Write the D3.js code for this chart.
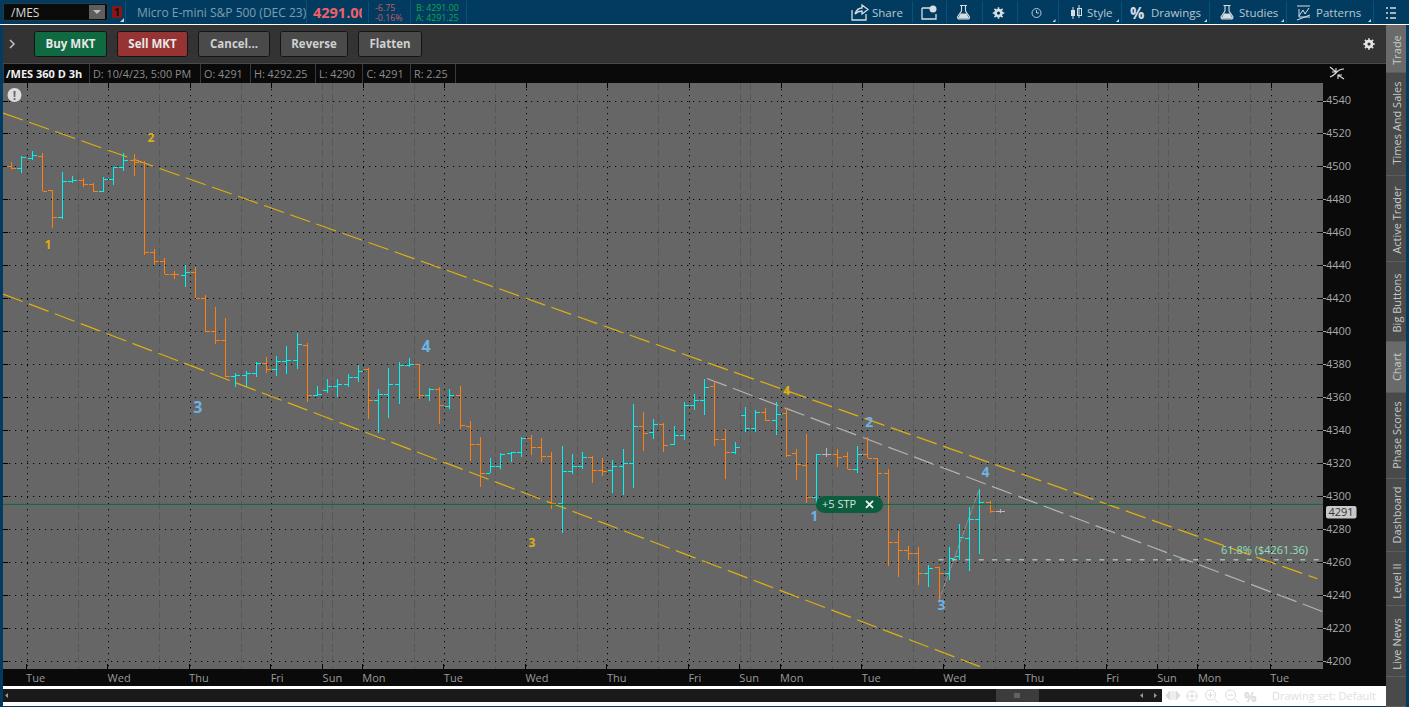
<!DOCTYPE html>
<html>
<head>
<meta charset="utf-8">
<title>/MES 360 D 3h</title>
<style>
  html, body { margin: 0; padding: 0; background: #01395c; overflow: hidden; }
  svg { display: block; }
  text { font-family: "Open Sans", "Noto Sans", sans-serif; }
  .price-axis path, .time-axis path { display: none; }
  .price-axis line { stroke: #a8a8a8; shape-rendering: crispEdges; }
  .price-axis text { fill: #a9a9a9; font-size: 11px; font-family: "Open Sans", sans-serif; }
  .time-axis line { stroke: #000; shape-rendering: crispEdges; }
  .time-axis text { fill: #9a9a9a; font-size: 11px; font-family: "Open Sans", sans-serif; text-anchor: start; }
</style>
</head>
<body>
<script src="https://cdnjs.cloudflare.com/ajax/libs/d3/7.8.5/d3.min.js"></script>
<script>

var opens = [4500,4499,4505,4506.25,4485.5,4469.5,4491,4491.75,4489.25,4485,
  4492.25,4499.5,4503.75,4502.5,4448,4442.5,4434.75,4434,4436.25,4420,
  4400,4394.5,4373,4373.25,4374.5,4380.75,4377,4381.75,4382.5,4391.75,
  4361.25,4364.25,4367,4367.75,4372,4377,4358.25,4362.25,4368,4379.5,
  4380,4361.25,4365,4354.5,4361.25,4342.5,4331.5,4314,4318.25,4326,
  4326.75,4335.25,4329.75,4324.25,4295.75,4315.25,4318.25,4323.75,4315.75,4315.75,
  4318.25,4320,4342.5,4338.75,4343.5,4331.5,4337,4355,4358.25,4367,
  4334.5,4326.75,4349,4341.25,4351,4346,4350.25,4326,4318.75,4299.5,
  4325.5,4325.5,4324.25,4316.25,4325.5,4323,4314,4272.25,4267.25,4265.5,
  4253.25,4257,4253.25,4263.5,4274.5,4286,4296.25,4291];
var highs = [4502.5,4506.5,4509.5,4508,4486,4496.5,4494,4492.75,4490,4493.5,
  4499.5,4508,4507.75,4503,4450,4444.5,4436.75,4440,4438.75,4422,
  4414.5,4408,4375,4376,4381.25,4384.5,4385,4391,4399,4392.75,
  4367,4371,4371,4374,4379.5,4377.75,4365,4377.5,4381.5,4384,
  4380.25,4365.75,4366,4365,4367,4345.75,4336,4323.25,4326,4327,
  4335.75,4337,4335.25,4326.75,4330.5,4325.75,4327,4324.5,4323.25,4322,
  4328.75,4356,4351,4347,4344.25,4342.5,4357,4362,4371,4370,
  4341,4333,4354,4352.25,4353.5,4357,4353.75,4328.75,4337.75,4325.5,
  4329,4328.75,4327,4330.5,4335.75,4323,4316.5,4278.75,4270,4269,
  4258.25,4257,4269,4283.25,4293.25,4304.25,4297.25,4292.25];
var lows = [4498.5,4496,4504,4485,4462.5,4468,4490,4487.5,4484.5,4484.25,
  4489,4497.5,4494,4446,4440.5,4434.75,4431.5,4427,4420,4399.5,
  4392.5,4372,4366.5,4366.5,4372.25,4375,4373,4374.25,4377,4357,
  4360.5,4362.5,4360.25,4366.25,4369,4347,4338.5,4347.5,4356,4378.5,
  4359,4358,4343.5,4353,4341,4321.5,4305.25,4313.75,4316.75,4321,
  4324,4325,4320.75,4292.5,4277.5,4313.5,4316.75,4308,4312.25,4302,
  4300.75,4305,4327.5,4334.75,4327,4331,4334.25,4352.25,4349.25,4330.5,
  4310.5,4325.75,4338.75,4338.75,4345.5,4337,4324,4309.5,4295.75,4295,
  4323.5,4317.5,4316.25,4313.75,4323,4300,4257.5,4251.25,4261,4246,
  4244.75,4236,4249,4261.25,4254.5,4265,4289.5,4290];
var closes = [4499,4505.5,4507,4485,4469.5,4491,4491.75,4489.25,4485,4492.25,
  4499.5,4503.75,4502.5,4448,4442.5,4434.75,4434.5,4436.25,4420.25,4400,
  4394.5,4373,4373.25,4374.5,4381,4377,4381.75,4382.5,4392.25,4361.25,
  4362.25,4367,4367.75,4372,4375.75,4358.25,4362.25,4368,4379.5,4380,
  4361.25,4365,4355,4361.25,4343,4331.5,4314,4318.25,4325.5,4326.75,
  4335.25,4329.75,4324.25,4295.75,4315.25,4318.25,4323.75,4315.75,4315.5,4318.25,
  4320,4342.5,4338.25,4343.5,4330.75,4337,4355,4358.25,4366,4334.5,
  4326.75,4329.75,4341.25,4351.25,4346,4349.75,4325,4319.5,4299.5,4325.5,
  4325.5,4323.5,4316.25,4325.5,4323,4313.75,4272.25,4267.25,4265.5,4253.25,
  4256.25,4253.25,4262.75,4275.25,4286,4296.25,4291,4291];

var priceTicks = [4200,4220,4240,4260,4280,4300,4320,4340,4360,4380,4400,4420,4440,4460,4480,4500,4520,4540];
var dayTicks = [1.5,9.5,17.5,25.5,30.6,34.5,42.5,50.5,58.5,66.5,71.5,75.5,83.5,91.5,99.5,107.5,112.5,116.5,123.6];
var dayNames = ["Tue","Wed","Thu","Fri","Sun","Mon","Tue","Wed","Thu","Fri","Sun","Mon","Tue","Wed","Thu","Fri","Sun","Mon","Tue"];
var dottedDays = [1.5,9.5,17.5,25.5,34.5,42.5,50.5,58.5,66.5,75.5,83.5,91.5,99.5,107.5,116.5,123.6];
var sessionBreaks = [6.5,14.5,22.5,30.5,31.5,39.5,47.5,55.5,63.5,71.5,72.5,80.5,88.5,96.5,104.5,112.5,113.5,121.6];

// wave counts: [bar position, price, text]
var yellowWaves = [[3.6,4452.3,"1"],[13.7,4517.3,"2"],[51.1,4271.6,"3"],[76.1,4363.8,"4"]];
var blueWaves = [[18.3,4354.1,"3",16],[40.7,4391.1,"4",16],[78.8,4288,"1",14],[84.2,4345,"2",14],[91.3,4234,"3",14],[95.6,4314.6,"4",14]];

var channelUpper = [[-0.81,4532.4],[128.18,4249.9]];
var channelLower = [[-0.81,4422.6],[95.06,4196.6]];
var trendGrey = [[68.27,4371.4],[128.73,4229.9]];
var fibSwing = [[91,4236],[95,4304.25]];
var fibLevel = 4261.36;
var fibEnd = [91,128.73];
var stopPrice = 4295;
var lastPrice = 4291;

var width = 1409, height = 707;
var plot = {left: 3, right: 1323, top: 83, bottom: 669};
var yellow = "#dcb010";

var svg = d3.select("body").append("svg")
  .attr("width", width)
  .attr("height", height);

var x = d3.scaleLinear().domain([0, 97]).range([11.3, 999.7]);
var y = d3.scaleLinear().domain([4200, 4540]).range([661, 100.5]);

function box(g, x0, y0, w, h, fill, stroke, r) {
  return g.append("rect").attr("x", x0).attr("y", y0).attr("width", w).attr("height", h)
    .attr("fill", fill).attr("stroke", stroke || "none").attr("rx", r || 0)
    .attr("shape-rendering", r ? null : "crispEdges");
}
function label(g, x0, y0, s, size, fill, weight, anchor) {
  return g.append("text").attr("x", x0).attr("y", y0).text(s)
    .attr("font-size", size).attr("fill", fill)
    .attr("font-weight", weight || 400).attr("text-anchor", anchor || "start");
}
function gear(g, cx, cy, r, col) {
  g.append("circle").attr("cx", cx).attr("cy", cy).attr("r", r * 0.6).attr("fill", "none")
    .attr("stroke", col).attr("stroke-width", r * 0.55);
  d3.range(8).forEach(function(i) {
    var a = i * Math.PI / 4;
    g.append("line").attr("x1", cx + Math.cos(a) * r * 0.7).attr("y1", cy + Math.sin(a) * r * 0.7)
      .attr("x2", cx + Math.cos(a) * r * 1.15).attr("y2", cy + Math.sin(a) * r * 1.15)
      .attr("stroke", col).attr("stroke-width", 1.6);
  });
}
function flask(g, cx, cy, col) {
  g.append("path").attr("d", "M" + (cx - 2) + " " + (cy - 6) + "V" + (cy - 1) + "L" + (cx - 6) + " " + (cy + 5) +
      "Q" + (cx - 6) + " " + (cy + 7) + " " + (cx - 4) + " " + (cy + 7) + "H" + (cx + 4) +
      "Q" + (cx + 6) + " " + (cy + 7) + " " + (cx + 6) + " " + (cy + 5) + "L" + (cx + 2) + " " + (cy - 1) + "V" + (cy - 6))
    .attr("fill", "none").attr("stroke", col).attr("stroke-width", 1.1);
  g.append("path").attr("d", "M" + (cx - 3) + " " + (cy + 1.5) + "H" + (cx + 3) + "L" + (cx + 5.5) + " " + (cy + 6.5) + "H" + (cx - 5.5) + "Z").attr("fill", col);
  g.append("line").attr("x1", cx - 3.5).attr("x2", cx + 3.5).attr("y1", cy - 6.5).attr("y2", cy - 6.5).attr("stroke", col);
}

// --- window frame
var ui = svg.append("g");
box(ui, 0, 0, width, 24, "#013c60");
box(ui, 0, 24, width, 1.5, "#ffffff");
box(ui, 3, 25, 1383, 39, "#333333");
box(ui, 3, 63, 1383, 1, "#4a4a4a");
box(ui, 3, 64, 1383, 622, "#0a0a0a");
box(ui, 0, 25, 3, 682, "#013c60");
box(ui, 1406, 25, 3, 682, "#013c60");
box(ui, 0, 706, width, 1, "#013c60");

// top toolbar
box(ui, 3.5, 3.5, 104, 17, "#0b0b0b", "#2a3a44", 2);
label(ui, 11, 16.5, "/MES", 12, "#d8d8d8");
box(ui, 89, 5, 16, 14, "#5e5e5e");
ui.append("path").attr("d", "M93 10H101L97 14Z").attr("fill", "#bdbdbd");
box(ui, 112, 6, 10, 12, "#8a1616", null, 2);
label(ui, 117, 16, "1", 11, "#111", 700, "middle");
ui.append("path").attr("d", "M120 22H124V18Z").attr("fill", "#c8d4dc");
label(ui, 137, 16.5, "Micro E-mini S&P 500 (DEC 23)", 12, "#7f9db0");
var clip = ui.append("clipPath").attr("id", "lastClip");
clip.append("rect").attr("x", 310).attr("y", 0).attr("width", 52).attr("height", 24);
label(ui, 313, 18, "4291.00", 14.5, "#f0606a", 700).attr("clip-path", "url(#lastClip)");
label(ui, 375, 10.5, "-6.75", 8.8, "#c85a64");
label(ui, 375, 20.5, "-0.16%", 8.8, "#c85a64");
label(ui, 416, 10.5, "B: 4291.00", 8.8, "#12a850");
label(ui, 416, 20.5, "A: 4291.25", 8.8, "#12a850");
[125, 306, 368, 409.5, 466, 911.5, 946, 981.5, 1016.7, 1057.7, 1121, 1209, 1286, 1373].forEach(function(d) {
  box(ui, d, 1, 1, 22, "#0f5078");
});

var tc = "#d6dee4", tt = "#b9c7d1";
ui.append("path").attr("d", "M852 10V20H866V14M855 14Q857 8 862 8V5L868 9.5L862 14V11Q858 11 855 14Z").attr("fill", "none").attr("stroke", tc).attr("stroke-width", 1.3);
label(ui, 872, 17, "Share", 11.5, tt);
ui.append("path").attr("d", "M922 8H932M922 8V19H936V14").attr("fill", "none").attr("stroke", tc).attr("stroke-width", 1.3);
ui.append("circle").attr("cx", 933).attr("cy", 9).attr("r", 3.5).attr("fill", tc);
flask(ui, 963.5, 12, tc);
gear(ui, 998.5, 13, 5, tc);
ui.append("circle").attr("cx", 1036.5).attr("cy", 13).attr("r", 4.5).attr("fill", "none").attr("stroke", tt);
ui.append("path").attr("d", "M1036.5 10V13H1039").attr("fill", "none").attr("stroke", tt);
ui.append("path").attr("d", "M1073 7V19M1079 5V18").attr("stroke", tc).attr("stroke-width", 1);
box(ui, 1071, 10, 4, 6, tc);
box(ui, 1077, 8, 4, 7, "none", tc);
label(ui, 1087, 17, "Style", 11.5, tt);
label(ui, 1130, 19, "%", 16, tc, 700);
label(ui, 1151, 17, "Drawings", 11.5, tt);
flask(ui, 1227, 12, tc);
label(ui, 1239, 17, "Studies", 11.5, tt);
ui.append("path").attr("d", "M1297 6H1310M1299 9V17H1310M1299 16L1303 10L1305 14L1309 8M1297 20L1310 15").attr("fill", "none").attr("stroke", tc).attr("stroke-width", 1);
label(ui, 1316, 17, "Patterns", 11.5, tt);
ui.append("path").attr("d", "M1390 8H1396M1390 13H1396M1390 18H1396M1386 8H1388M1386 13H1388M1386 18H1388").attr("stroke", tc).attr("stroke-width", 1.3);
[1055.5, 1119, 1207, 1284, 1371].forEach(function(d) {
  ui.append("path").attr("d", "M" + (d - 3) + " 22H" + d + "V19Z").attr("fill", "#c8d4dc");
});

// order bar
ui.append("path").attr("d", "M10 40L14 44L10 48").attr("fill", "none").attr("stroke", "#bbb").attr("stroke-width", 1.6);
var buttons = [
  {x: 34.5, w: 72, fill: "#0f6a42", s: "Buy MKT", c: "#e8e8e8"},
  {x: 117.5, w: 70, fill: "#963333", s: "Sell MKT", c: "#e8e8e8"},
  {x: 198.5, w: 71, fill: "#4a4a4a", s: "Cancel...", c: "#d0d0d0"},
  {x: 280.5, w: 67, fill: "#4a4a4a", s: "Reverse", c: "#d0d0d0"},
  {x: 358.5, w: 63, fill: "#4a4a4a", s: "Flatten", c: "#d0d0d0"}
];
buttons.forEach(function(b) {
  box(ui, b.x, 31.5, b.w, 25, b.fill, "#141414", 2);
  label(ui, b.x + b.w / 2, 48, b.s, 11.5, b.c, 700, "middle");
});
gear(ui, 1369, 44, 5, "#e6e6e6");

// side tabs
var tabs = [
  {s: "Trade", y0: 25, y1: 72, cy: 50, on: true},
  {s: "Times And Sales", y0: 73, y1: 175, cy: 123},
  {s: "Active Trader", y0: 176, y1: 261, cy: 220},
  {s: "Big Buttons", y0: 262, y1: 341, cy: 303},
  {s: "Chart", y0: 342, y1: 392, cy: 367, on: true},
  {s: "Phase Scores", y0: 393, y1: 478, cy: 435},
  {s: "Dashboard", y0: 479, y1: 551, cy: 515},
  {s: "Level II", y0: 552, y1: 605, cy: 581},
  {s: "Live News", y0: 606, y1: 676, cy: 644},
  {s: "", y0: 677, y1: 706}
];
tabs.forEach(function(t) {
  box(ui, 1386, t.y0, 20, t.y1 - t.y0, t.on ? "#6a6a6a" : "#4a4a4a");
  box(ui, 1386, t.y1, 20, 1, "#5c5c5c");
  if (t.s) {
    ui.append("text").text(t.s)
      .attr("transform", "translate(1401," + t.cy + ") rotate(-90)")
      .attr("text-anchor", "middle").attr("font-size", 11).attr("fill", "#c8c8c8");
  }
});

// study header strip
var heads = [
  {x: 6, s: "/MES 360 D 3h", c: "#f0f0f0", w: 700, f: 11},
  {x: 93, s: "D: 10/4/23, 5:00 PM", c: "#8c8c8c", f: 10.8},
  {x: 204, s: "O: 4291", c: "#8c8c8c", f: 10.8},
  {x: 254, s: "H: 4292.25", c: "#8c8c8c", f: 10.8},
  {x: 319, s: "L: 4290", c: "#8c8c8c", f: 10.8},
  {x: 366.5, s: "C: 4291", c: "#8c8c8c", f: 10.8},
  {x: 414, s: "R: 2.25", c: "#8c8c8c", f: 10.8}
];
heads.forEach(function(h) { label(ui, h.x, 77.5, h.s, h.f, h.c, h.w); });
[3, 89, 200, 250, 315, 362, 410, 455].forEach(function(d) { box(ui, d, 64, 1, 19, "#3a3a3a"); });
ui.append("path").attr("d", "M1330 67L1336 72M1336 68V72H1332M1344 79L1338 75M1338 79V75H1342M1330 77Q1333 76 1336 73Q1339 69 1344 69")
  .attr("fill", "none").attr("stroke", "#e0e0e0").attr("stroke-width", 1.1);

// bottom strip
box(ui, 3, 686, 1383, 20, "#ffffff");
box(ui, 3, 689, 1159, 13, "#1a1a1a");
box(ui, 996, 689, 43, 13, "#3c3c3c");
ui.append("path").attr("d", "M1015 693V698M1017 693V698M1019 693V698").attr("stroke", "#888");
ui.append("path").attr("d", "M8 693L5 695.5L8 698ZM1143 693L1140 695.5L1143 698ZM1154 693L1157 695.5L1154 698Z").attr("fill", "#999");
var fc = "#dcdcdc";
ui.append("path").attr("d", "M1166 695.5L1170 691V700ZM1180 695.5L1176 691V700ZM1172 691V700M1174 691V700").attr("fill", fc).attr("stroke", fc);
ui.append("circle").attr("cx", 1192).attr("cy", 696).attr("r", 5).attr("fill", "none").attr("stroke", fc);
ui.append("path").attr("d", "M1186 696H1198M1192 690V702").attr("stroke", fc);
[1210.5, 1230.5].forEach(function(d, i) {
  ui.append("circle").attr("cx", d).attr("cy", 695).attr("r", 5).attr("fill", "none").attr("stroke", fc);
  ui.append("path").attr("d", "M" + (d + 4) + " 699L" + (d + 8) + " 703M" + (d - 3) + " 695H" + (d + 3) + (i ? "" : "M" + d + " 692V698")).attr("stroke", fc).attr("fill", "none");
});
label(ui, 1244, 702, "%", 14, fc, 700);
label(ui, 1272, 700, "Drawing set: Default", 11, "#e0e0e0");

// --- plot
var chart = svg.append("g");
box(chart, plot.left, plot.top, plot.right - plot.left, plot.bottom - plot.top, "#666666");

chart.append("clipPath").attr("id", "plotClip").append("rect")
  .attr("x", plot.left).attr("y", plot.top)
  .attr("width", plot.right - plot.left).attr("height", plot.bottom - plot.top);
var marks = chart.append("g").attr("clip-path", "url(#plotClip)");

marks.selectAll("line.session").data(sessionBreaks).enter().append("line")
  .attr("class", "session")
  .attr("x1", function(d) { return Math.round(x(d)) + 0.5; })
  .attr("x2", function(d) { return Math.round(x(d)) + 0.5; })
  .attr("y1", plot.top).attr("y2", plot.bottom)
  .attr("stroke", "#585858").attr("stroke-dasharray", "8 3");

marks.selectAll("line.hgrid").data(priceTicks).enter().append("line")
  .attr("class", "hgrid")
  .attr("x1", plot.left).attr("x2", plot.right)
  .attr("y1", function(d) { return Math.round(y(d)) + 0.5; })
  .attr("y2", function(d) { return Math.round(y(d)) + 0.5; })
  .attr("stroke", "#000").attr("stroke-dasharray", "1.2 4.8");

marks.selectAll("line.vgrid").data(dottedDays).enter().append("line")
  .attr("class", "vgrid")
  .attr("x1", function(d) { return Math.round(x(d)) + 0.5; })
  .attr("x2", function(d) { return Math.round(x(d)) + 0.5; })
  .attr("y1", plot.top).attr("y2", plot.bottom)
  .attr("stroke", "#000").attr("stroke-dasharray", "1.2 4.8");

// edge ticks of the plot frame
marks.selectAll("line.topTick").data(dottedDays).enter().append("line")
  .attr("class", "topTick")
  .attr("x1", function(d) { return Math.round(x(d)) + 0.5; })
  .attr("x2", function(d) { return Math.round(x(d)) + 0.5; })
  .attr("y1", plot.top).attr("y2", plot.top + 5)
  .attr("stroke", "#000");
marks.selectAll("line.leftTick").data(priceTicks).enter().append("line")
  .attr("class", "leftTick")
  .attr("x1", plot.left).attr("x2", plot.left + 5)
  .attr("y1", function(d) { return Math.round(y(d)) + 0.5; })
  .attr("y2", function(d) { return Math.round(y(d)) + 0.5; })
  .attr("stroke", "#000");
marks.selectAll("line.rightTick").data(priceTicks).enter().append("line")
  .attr("class", "rightTick")
  .attr("x1", plot.right - 5).attr("x2", plot.right)
  .attr("y1", function(d) { return Math.round(y(d)) + 0.5; })
  .attr("y2", function(d) { return Math.round(y(d)) + 0.5; })
  .attr("stroke", "#000");

var line = d3.line().x(function(d) { return x(d[0]); }).y(function(d) { return y(d[1]); });

function drawSeg(pts, col, dash, sw, op) {
  marks.append("path").attr("d", line(pts))
    .attr("fill", "none").attr("stroke", col).attr("stroke-width", sw || 1.2)
    .attr("stroke-dasharray", dash).attr("opacity", op || 1);
}
drawSeg(fibSwing, "#9a9a9a", "6 1", 1, 0.8);
marks.append("line")
  .attr("x1", x(fibEnd[0])).attr("x2", x(fibEnd[1]))
  .attr("y1", y(fibLevel)).attr("y2", y(fibLevel))
  .attr("stroke", "#b9ecd4").attr("stroke-width", 1).attr("stroke-dasharray", "5 8.4");
drawSeg(channelUpper, yellow, "21 6.7");
drawSeg(channelLower, yellow, "21 6.7");
drawSeg(trendGrey, "#b4b4b4", "21 6.7");

// ohlc bars, coloured against the previous close
function barColor(i) {
  var prev = i === 0 ? opens[0] : closes[i - 1];
  if (closes[i] > prev) return "#00f2f2";
  if (closes[i] < prev) return "#ff7f0e";
  return "#b8b8b8";
}
var bars = marks.selectAll("g.bar").data(d3.range(opens.length)).enter().append("g")
  .attr("class", "bar")
  .attr("stroke", barColor)
  .attr("shape-rendering", "crispEdges");
bars.append("line")
  .attr("x1", function(i) { return Math.round(x(i)) + 0.5; })
  .attr("x2", function(i) { return Math.round(x(i)) + 0.5; })
  .attr("y1", function(i) { return y(highs[i]); })
  .attr("y2", function(i) { return y(lows[i]); });
bars.append("line")
  .attr("x1", function(i) { return Math.round(x(i)) - 4; })
  .attr("x2", function(i) { return Math.round(x(i)); })
  .attr("y1", function(i) { return Math.round(y(opens[i])) + 0.5; })
  .attr("y2", function(i) { return Math.round(y(opens[i])) + 0.5; });
bars.append("line")
  .attr("x1", function(i) { return Math.round(x(i)) + 1; })
  .attr("x2", function(i) { return Math.round(x(i)) + 5; })
  .attr("y1", function(i) { return Math.round(y(closes[i])) + 0.5; })
  .attr("y2", function(i) { return Math.round(y(closes[i])) + 0.5; });

// working stop order
marks.append("line")
  .attr("x1", plot.left).attr("x2", plot.right)
  .attr("y1", y(stopPrice)).attr("y2", y(stopPrice))
  .attr("stroke", "#0b6a3e").attr("stroke-width", 1);
box(marks, 816, y(stopPrice) - 8.5, 67, 17, "#0c5c3e", null, 8.5);
label(marks, 822, y(stopPrice) + 4, "+5 STP", 11, "#d4e4dc");
marks.append("path").attr("d", "M866 " + (y(stopPrice) - 3.5) + "L873 " + (y(stopPrice) + 3.5) + "M873 " + (y(stopPrice) - 3.5) + "L866 " + (y(stopPrice) + 3.5))
  .attr("stroke", "#f0f0f0").attr("stroke-width", 1.8);

// fib label
label(marks, 1221, 553.5, "61.8%  ($4261.36)", 11, "#8fe0bb");

// wave counts
marks.selectAll("text.yellowWave").data(yellowWaves).enter().append("text")
  .attr("class", "yellowWave")
  .attr("x", function(d) { return x(d[0]); })
  .attr("y", function(d) { return y(d[1]); })
  .attr("dy", "0.36em").attr("text-anchor", "middle")
  .attr("font-size", 12).attr("font-weight", 700).attr("fill", yellow)
  .text(function(d) { return d[2]; });
marks.selectAll("text.blueWave").data(blueWaves).enter().append("text")
  .attr("class", "blueWave")
  .attr("x", function(d) { return x(d[0]); })
  .attr("y", function(d) { return y(d[1]); })
  .attr("dy", "0.36em").attr("text-anchor", "middle")
  .attr("font-size", function(d) { return d[3]; }).attr("font-weight", 700).attr("fill", "#6db3e6")
  .text(function(d) { return d[2]; });

// alert badge
marks.append("circle").attr("cx", 14.5).attr("cy", 95).attr("r", 7).attr("fill", "#dcdcdc");
label(marks, 14.5, 99.5, "!", 12, "#666", 700, "middle");

// axes
var priceAxis = d3.axisRight(y).tickValues(priceTicks).tickSize(3).tickPadding(0).tickFormat(d3.format("d"));
var priceG = svg.append("g").attr("class", "price-axis").attr("transform", "translate(" + plot.right + ",0)").call(priceAxis);
priceG.selectAll("text").attr("dy", "0.28em");

var timeAxis = d3.axisBottom(x).tickValues(dayTicks).tickSize(5).tickPadding(3)
  .tickFormat(function(d, i) { return dayNames[i]; });
var timeG = svg.append("g").attr("class", "time-axis").attr("transform", "translate(-1," + (plot.bottom - 5) + ")").call(timeAxis);
timeG.selectAll("text").attr("dy", "0.9em");

// last price tag
box(svg, 1326, y(lastPrice) - 5, 30.5, 12.5, "#c9c9c9", null, 2);
label(svg, 1341, y(lastPrice) + 5, "4291", 11, "#333", 400, "middle");

</script>
</body>
</html>
